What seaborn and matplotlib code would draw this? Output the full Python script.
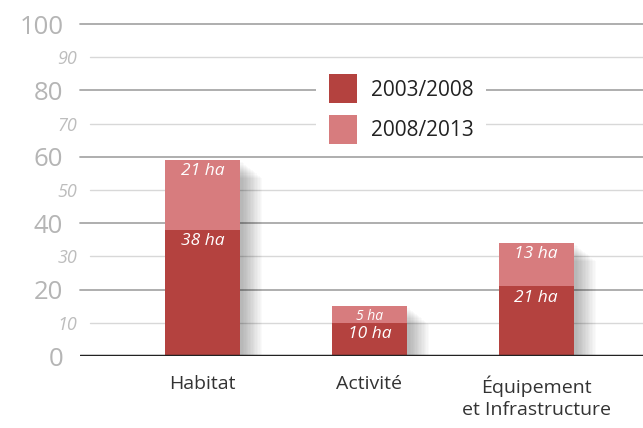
import matplotlib
matplotlib.use("Agg")
import matplotlib.pyplot as plt
import matplotlib.patheffects as pe
from matplotlib.patches import Patch
import seaborn as sns
import pandas as pd

# data (hectares)
categories = ["Habitat", "Activité", "Équipement\net Infrastructure"]
periode_2003_2008 = [38, 10, 21]
periode_2008_2013 = [21, 5, 13]
major_ticks = [0, 20, 40, 60, 80, 100]
minor_ticks = [10, 30, 50, 70, 90]

col_dark = "#b4423f"
col_light = "#d77c7e"

df = pd.DataFrame({
    "cat": categories,
    "p1": periode_2003_2008,
    "p2": periode_2008_2013,
})
df["total"] = df["p1"] + df["p2"]

sns.set_style("white")
plt.rcParams["font.family"] = ["Open Sans", "DejaVu Sans"]

fig = plt.figure(figsize=(6.43, 4.28), dpi=100)
ax = fig.add_axes([80 / 643, 72 / 428, 563 / 643, 332 / 428])

# soft shadow behind the bars (many faint offset copies)
shadow = [pe.SimplePatchShadow(offset=(o, -o * 0.8), shadow_rgbFace="black", alpha=0.018)
          for o in range(2, 17)] + [pe.Normal()]

sns.barplot(data=df, x="cat", y="total", color=col_light, saturation=1,
            width=0.45, ax=ax, zorder=3, linewidth=0)
for p in ax.patches:
    p.set_path_effects(shadow)
sns.barplot(data=df, x="cat", y="p1", color=col_dark, saturation=1,
            width=0.45, ax=ax, zorder=4, linewidth=0)

# labels inside the bars
for i, row in df.iterrows():
    ax.text(i, row["p1"] - 1.0, f"{row['p1']} ha", ha="center", va="top",
            color="white", style="italic", fontsize=12.5, zorder=6)
    fs = 12.5 if row["p2"] > 6 else 10
    ax.text(i, row["total"] - 0.8, f"{row['p2']} ha", ha="center", va="top",
            color="white", style="italic", fontsize=fs, zorder=6)

ax.set_xlim(-0.735, 2.64)
ax.set_ylim(0, 100)
sns.despine(ax=ax, left=True, bottom=True)

# gridlines
for v in major_ticks[1:]:
    ax.axhline(v, color="#a8a8a8", lw=1.3, zorder=1, clip_on=False)
for v in minor_ticks:
    ax.axhline(v, xmin=0.018, color="#d8d8d8", lw=1.0, zorder=1)
ax.axhline(0, color="#222222", lw=2.5, zorder=5)

ax.set_yticks(major_ticks)
ax.set_yticklabels([str(v) for v in major_ticks], fontsize=18.5, color="#b5b5b5")
ax.set_yticks(minor_ticks, minor=True)
ax.set_yticklabels([str(v) for v in minor_ticks], minor=True, fontsize=13,
                   color="#bdbdbd", style="italic")
ax.tick_params(axis="y", which="major", length=0, pad=12)
ax.tick_params(axis="y", which="minor", length=0, pad=2)

ax.set_xticks(range(len(categories)))
ax.set_xticklabels(categories, fontsize=14, color="#333333", linespacing=1.3)
ax.tick_params(axis="x", length=0, pad=14)
ax.set_xlabel("")
ax.set_ylabel("")

handles = [Patch(facecolor=col_dark, edgecolor="none"),
           Patch(facecolor=col_light, edgecolor="none")]
leg = ax.legend(handles, ["2003/2008", "2008/2013"], loc="upper left",
                bbox_to_anchor=(236 / 563, 1 - 38 / 332), fontsize=15,
                handlelength=1.35, handleheight=1.75, labelspacing=0.55,
                handletextpad=0.7, frameon=True, facecolor="white",
                edgecolor="none", framealpha=1, borderpad=0.6,
                borderaxespad=0)
leg.set_zorder(7)
for t in leg.get_texts():
    t.set_color("#222222")

fig.savefig("out.png", dpi=100, facecolor="white")
